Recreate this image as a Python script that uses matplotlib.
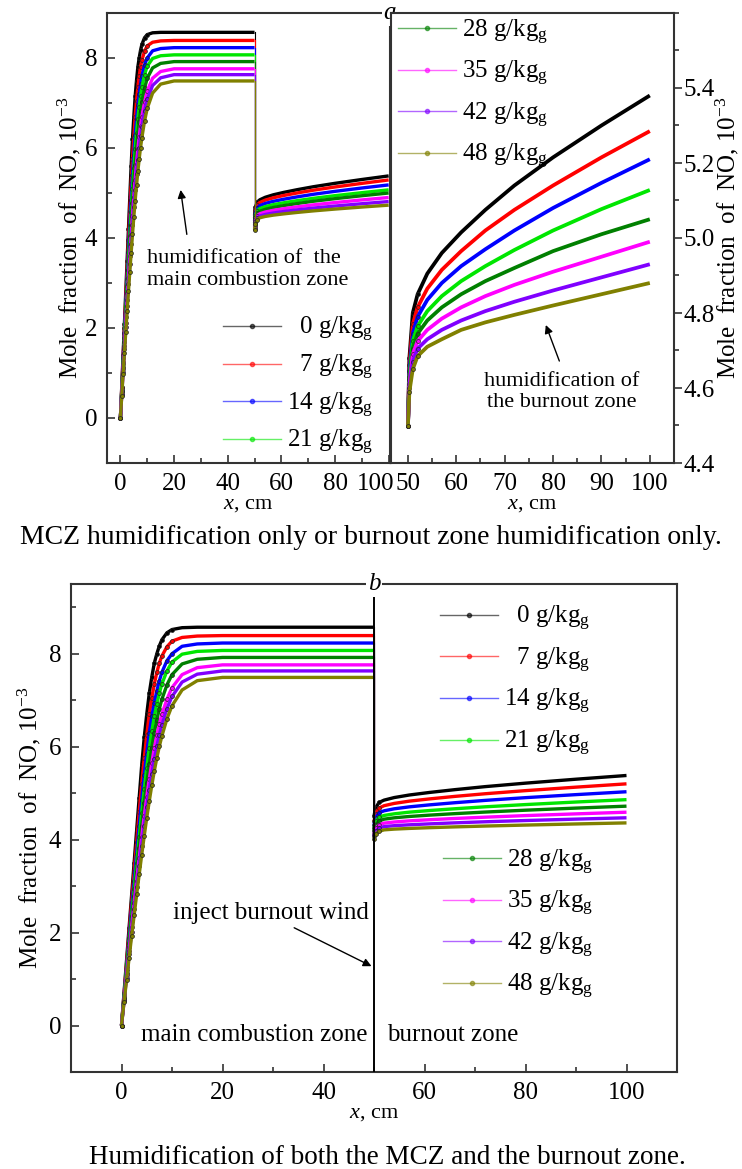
# NO mole fraction along the furnace for different humidification levels
import matplotlib.pyplot as plt
from matplotlib.lines import Line2D
from matplotlib.ticker import MultipleLocator
import matplotlib.transforms as mtransforms

plt.rcParams['font.family'] = 'Liberation Serif'
plt.rcParams['mathtext.fontset'] = 'custom'
plt.rcParams['mathtext.rm'] = 'Liberation Serif'
plt.rcParams['mathtext.it'] = 'Liberation Serif:italic'

# humidity levels and colours
humidity = [0, 7, 14, 21, 28, 35, 42, 48]
colors = ['#000000', '#ff0000', '#0000ff', '#00e600', '#008000', '#ff00ff', '#8000ff', '#808000']

# main combustion zone (0-50 cm), MCZ humidified
x_mcz = [0, 0.5, 1, 1.5, 2, 2.5, 3, 3.5, 4, 4.5, 5, 5.5, 6, 6.5, 7, 7.5, 8, 9, 10, 12, 15, 20, 30, 40, 50]
mcz_0 = [0, 0.7, 1.4, 2.1, 2.8, 3.5, 4.2, 4.9, 5.6, 6.2, 6.7, 7.15, 7.5, 7.8, 8.0, 8.17, 8.3, 8.45, 8.52, 8.56, 8.57, 8.57, 8.57, 8.57, 8.57]
mcz_7 = [0, 0.66, 1.33, 2.0, 2.65, 3.3, 3.95, 4.6, 5.2, 5.75, 6.25, 6.7, 7.05, 7.35, 7.6, 7.8, 7.95, 8.15, 8.27, 8.35, 8.38, 8.39, 8.39, 8.39, 8.39]
mcz_14 = [0, 0.62, 1.25, 1.88, 2.5, 3.1, 3.7, 4.3, 4.85, 5.4, 5.85, 6.3, 6.65, 6.95, 7.2, 7.42, 7.6, 7.85, 8.0, 8.16, 8.21, 8.23, 8.23, 8.23, 8.23]
mcz_21 = [0, 0.6, 1.2, 1.78, 2.36, 2.93, 3.5, 4.05, 4.58, 5.08, 5.55, 5.97, 6.33, 6.65, 6.92, 7.15, 7.35, 7.63, 7.82, 7.99, 8.05, 8.07, 8.07, 8.07, 8.07]
mcz_28 = [0, 0.57, 1.14, 1.7, 2.25, 2.78, 3.3, 3.82, 4.3, 4.78, 5.22, 5.62, 5.98, 6.3, 6.58, 6.82, 7.02, 7.33, 7.55, 7.78, 7.88, 7.92, 7.92, 7.92, 7.92]
mcz_35 = [0, 0.54, 1.08, 1.6, 2.12, 2.63, 3.12, 3.6, 4.06, 4.5, 4.92, 5.3, 5.65, 5.97, 6.25, 6.49, 6.7, 7.02, 7.27, 7.55, 7.7, 7.76, 7.76, 7.76, 7.76]
mcz_42 = [0, 0.52, 1.03, 1.53, 2.02, 2.5, 2.97, 3.43, 3.87, 4.3, 4.7, 5.07, 5.42, 5.73, 6.01, 6.26, 6.47, 6.82, 7.08, 7.39, 7.56, 7.63, 7.63, 7.63, 7.63]
mcz_48 = [0, 0.5, 0.98, 1.45, 1.92, 2.37, 2.82, 3.25, 3.67, 4.08, 4.47, 4.83, 5.17, 5.48, 5.76, 6.01, 6.23, 6.6, 6.88, 7.22, 7.42, 7.49, 7.49, 7.49, 7.49]

# burnout zone (50-100 cm)
x_bz = [50, 50.3, 51, 52, 54, 57, 61, 66, 72, 80, 90, 100]
bz_0 = [4.50, 4.68, 4.80, 4.85, 4.905, 4.96, 5.015, 5.075, 5.14, 5.215, 5.30, 5.38]

# burnout zone only humidified (panel a, right)
bzh_7 = [4.50, 4.66, 4.77, 4.815, 4.865, 4.915, 4.965, 5.02, 5.075, 5.14, 5.215, 5.285]
bzh_14 = [4.50, 4.645, 4.745, 4.79, 4.835, 4.88, 4.925, 4.97, 5.02, 5.08, 5.147, 5.21]
bzh_21 = [4.50, 4.63, 4.725, 4.765, 4.805, 4.845, 4.885, 4.925, 4.968, 5.02, 5.077, 5.128]
bzh_28 = [4.50, 4.62, 4.705, 4.745, 4.78, 4.815, 4.85, 4.885, 4.92, 4.965, 5.01, 5.05]
bzh_35 = [4.50, 4.61, 4.69, 4.725, 4.755, 4.785, 4.815, 4.845, 4.875, 4.91, 4.95, 4.99]
bzh_42 = [4.50, 4.60, 4.67, 4.705, 4.73, 4.755, 4.78, 4.805, 4.83, 4.86, 4.895, 4.93]
bzh_48 = [4.50, 4.59, 4.65, 4.685, 4.71, 4.73, 4.755, 4.775, 4.795, 4.82, 4.85, 4.88]

# burnout zone after MCZ-only humidification (panel a, left)
bzm_7 = [4.44, 4.62, 4.74, 4.79, 4.842, 4.894, 4.946, 5.002, 5.063, 5.134, 5.214, 5.29]
bzm_14 = [4.38, 4.56, 4.67, 4.72, 4.768, 4.815, 4.863, 4.915, 4.972, 5.037, 5.111, 5.18]
bzm_21 = [4.33, 4.50, 4.61, 4.655, 4.698, 4.741, 4.784, 4.831, 4.882, 4.941, 5.007, 5.07]
bzm_28 = [4.28, 4.45, 4.55, 4.595, 4.637, 4.679, 4.721, 4.767, 4.817, 4.874, 4.939, 5.00]
bzm_35 = [4.24, 4.40, 4.50, 4.54, 4.577, 4.615, 4.652, 4.693, 4.737, 4.788, 4.846, 4.90]
bzm_42 = [4.21, 4.36, 4.45, 4.49, 4.523, 4.556, 4.590, 4.626, 4.665, 4.710, 4.762, 4.81]
bzm_48 = [4.18, 4.32, 4.41, 4.45, 4.479, 4.508, 4.537, 4.569, 4.603, 4.643, 4.688, 4.73]

# burnout zone with both zones humidified (panel b)
bzb_7 = [4.40, 4.56, 4.68, 4.73, 4.779, 4.828, 4.876, 4.930, 4.987, 5.054, 5.129, 5.20]
bzb_14 = [4.32, 4.47, 4.58, 4.62, 4.663, 4.705, 4.748, 4.794, 4.844, 4.903, 4.968, 5.03]
bzb_21 = [4.25, 4.39, 4.48, 4.52, 4.555, 4.591, 4.626, 4.664, 4.706, 4.754, 4.809, 4.86]
bzb_28 = [4.18, 4.31, 4.40, 4.44, 4.469, 4.498, 4.527, 4.559, 4.593, 4.633, 4.678, 4.72]
bzb_35 = [4.12, 4.24, 4.32, 4.355, 4.379, 4.404, 4.428, 4.455, 4.483, 4.517, 4.554, 4.59]
bzb_42 = [4.07, 4.18, 4.25, 4.28, 4.30, 4.319, 4.339, 4.361, 4.384, 4.411, 4.441, 4.47]
bzb_48 = [4.02, 4.12, 4.18, 4.21, 4.226, 4.241, 4.257, 4.274, 4.292, 4.313, 4.337, 4.36]

mcz_all = [mcz_0, mcz_7, mcz_14, mcz_21, mcz_28, mcz_35, mcz_42, mcz_48]
bzh_all = [bz_0, bzh_7, bzh_14, bzh_21, bzh_28, bzh_35, bzh_42, bzh_48]
bzm_all = [bz_0, bzm_7, bzm_14, bzm_21, bzm_28, bzm_35, bzm_42, bzm_48]
bzb_all = [bz_0, bzb_7, bzb_14, bzb_21, bzb_28, bzb_35, bzb_42, bzb_48]

labels = [('  ' if h < 10 else '') + str(h) + ' g/kg$_{\\rm g}$' for h in humidity]

FS = 18
spine_c = '#333333'


def style(ax):
    for s in ax.spines.values():
        s.set_linewidth(1.5)
        s.set_color(spine_c)
    ax.tick_params(which='both', direction='in', width=1.2, color=spine_c,
                   labelsize=FS, top=False, right=False, pad=7)
    ax.tick_params(which='major', length=6)
    ax.tick_params(which='minor', length=3.5)


def curve(ax, x, y, c, n_mark, lw=2.4):
    ax.plot(x, y, color=c, lw=lw, marker='o', ms=2.8, mfc=c, mec='#222222',
            mew=0.5, markevery=list(range(n_mark)), solid_capstyle='butt')


def drop(ax, y1, y2, c):
    ax.plot([x_mcz[-1], x_bz[0]], [y1[-1], y2[0]], color=c, lw=0.8)


def legend(ax, idx, anchor, spacing):
    handles = [Line2D([], [], color=colors[i], lw=1.0, alpha=0.6, marker='o', ms=3)
               for i in idx]
    ax.legend(handles, [labels[i] for i in idx], loc='upper left', bbox_to_anchor=anchor,
              frameon=False, fontsize=18, handlelength=2.3, handletextpad=0.25,
              labelspacing=spacing, borderpad=0, borderaxespad=0, numpoints=1)


fig = plt.figure(figsize=(7.42, 11.69), dpi=100)

# ---------------- panel a, left: MCZ humidification only
ax1 = fig.add_axes([107 / 742, 1 - 463 / 1169, 283 / 742, 450 / 1169])
for m, b, c in zip(mcz_all, bzm_all, colors):
    curve(ax1, x_mcz, m, c, 19)
    drop(ax1, m, b, c)
    curve(ax1, x_bz, b, c, 3)
ax1.set_xlim(-5, 100.5)
ax1.set_ylim(-1, 9)
ax1.set_xticks([0, 20, 40, 60, 80, 100])
ax1.set_xticklabels(['0', '20', '40', '60', '80', ''])
ax1.xaxis.set_minor_locator(MultipleLocator(10))
ax1.yaxis.set_major_locator(MultipleLocator(2))
ax1.yaxis.set_minor_locator(MultipleLocator(1))
style(ax1)
# last label squeezed left so it does not run into the right panel's "50"
xt1 = mtransforms.blended_transform_factory(ax1.transData, ax1.transAxes)
ax1.annotate('100', xy=(100, 0), xycoords=xt1, xytext=(-9.5, -7), textcoords='offset points',
             ha='center', va='top', fontsize=FS)
ax1.set_xlabel('$x$, cm', fontsize=16, labelpad=0)
ax1.set_ylabel('Mole  fraction  of  NO, 10$^{-3}$', fontsize=FS, labelpad=1)
ax1.text(10, 3.3, 'humidification of  the\nmain combustion zone', fontsize=16,
         va='center', ha='left', linespacing=1.15)
ax1.annotate('', xy=(22.3, 5.13), xytext=(24.9, 4.02),
             arrowprops=dict(arrowstyle='-|>', color='k', lw=1.0, mutation_scale=12))
legend(ax1, [0, 1, 2, 3], (0.41, 0.328), 0.34)
ax1.text(1.0, 1.0, 'a', transform=ax1.transAxes, ha='center', va='center',
         fontsize=FS, style='italic', zorder=10, clip_on=False,
         bbox=dict(fc='white', ec='none', pad=1))

# ---------------- panel a, right: burnout zone humidification only
ax2 = fig.add_axes([391 / 742, 1 - 463 / 1169, 283 / 742, 450 / 1169])
for b, c in zip(bzh_all, colors):
    curve(ax2, x_bz, b, c, 4, lw=2.7)
ax2.set_xlim(46.5, 105)
ax2.set_ylim(4.4, 5.6)
ax2.xaxis.set_major_locator(MultipleLocator(10))
ax2.xaxis.set_minor_locator(MultipleLocator(5))
ax2.set_yticks([4.4, 4.6, 4.8, 5.0, 5.2, 5.4])
ax2.yaxis.set_minor_locator(MultipleLocator(0.1))
style(ax2)
ax2.yaxis.tick_right()
ax2.tick_params(axis='y', which='both', direction='out', left=False, right=True, pad=1)
ax2.yaxis.set_label_position('right')
ax2.set_ylabel('Mole  fraction  of  NO, 10$^{-3}$', fontsize=FS, labelpad=-1)
ax2.set_xlabel('$x$, cm', fontsize=16, labelpad=0)
ax2.text(81.7, 4.59, 'humidification of\nthe burnout zone', fontsize=16,
         va='center', ha='center', linespacing=1.15)
ax2.annotate('', xy=(78.3, 4.775), xytext=(81.5, 4.665),
             arrowprops=dict(arrowstyle='-|>', color='k', lw=1.0, mutation_scale=12))
legend(ax2, [4, 5, 6, 7], (0.025, 0.99), 0.5)

fig.text(0.5, 1 - 537 / 1169, 'MCZ humidification only or burnout zone humidification only.',
         ha='center', va='center', fontsize=20)

# ---------------- panel b: both zones humidified
ax3 = fig.add_axes([71 / 742, 1 - 1072 / 1169, 606 / 742, 488 / 1169])
for m, b, c in zip(mcz_all, bzb_all, colors):
    curve(ax3, x_mcz, m, c, 19)
    drop(ax3, m, b, c)
    curve(ax3, x_bz, b, c, 3)
ax3.axvline(50, color='k', lw=1.4, zorder=5)
ax3.set_xlim(-10, 110)
ax3.set_ylim(-1, 9.5)
ax3.xaxis.set_major_locator(MultipleLocator(20))
ax3.xaxis.set_minor_locator(MultipleLocator(10))
ax3.yaxis.set_major_locator(MultipleLocator(2))
ax3.yaxis.set_minor_locator(MultipleLocator(1))
style(ax3)
ax3.set_xlabel('$x$, cm', fontsize=16, labelpad=0)
ax3.set_ylabel('Mole  fraction  of  NO, 10$^{-3}$', fontsize=FS, labelpad=4)
ax3.text(48.7, -0.2, 'main combustion zone', fontsize=FS, ha='right', va='center')
ax3.text(52.6, -0.2, 'burnout zone', fontsize=FS, ha='left', va='center')
ax3.text(49, 2.43, 'inject burnout wind', fontsize=FS, ha='right', va='center')
ax3.annotate('', xy=(50, 1.25), xytext=(33.7, 2.13),
             arrowprops=dict(arrowstyle='-|>', color='k', lw=1.0, mutation_scale=12))
legend(ax3, [0, 1, 2, 3], (0.609, 0.959), 0.5)
leg_b = ax3.get_legend()
legend(ax3, [4, 5, 6, 7], (0.614, 0.46), 0.5)
ax3.add_artist(leg_b)
trans = mtransforms.blended_transform_factory(ax3.transData, ax3.transAxes)
ax3.text(50, 1.0, 'b', transform=trans, ha='center', va='center', fontsize=FS,
         style='italic', zorder=10, clip_on=False, bbox=dict(fc='white', ec='none', pad=1))

fig.text(387 / 742, 1 - 1157 / 1169, 'Humidification of both the MCZ and the burnout zone.',
         ha='center', va='center', fontsize=19.5)

fig.savefig('out.png', dpi=100)
